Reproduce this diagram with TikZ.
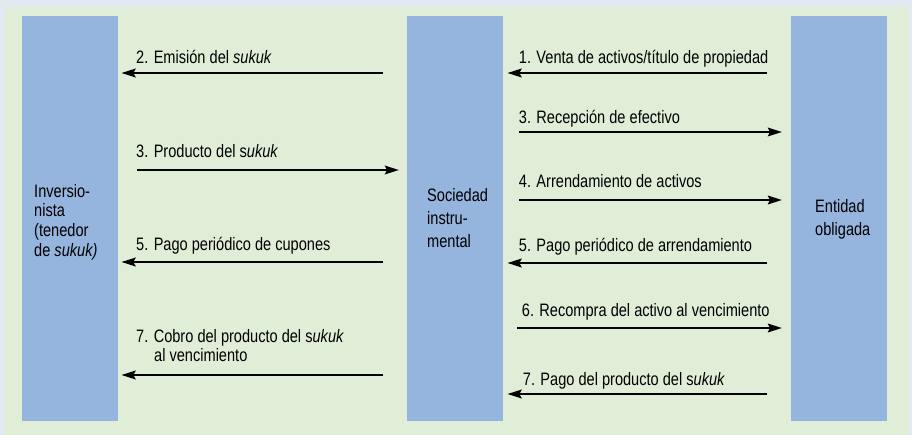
\documentclass[tikz,border=0pt]{standalone}
\usepackage{fontspec}
\setmainfont{Liberation Sans}[FakeStretch=0.81]
\usetikzlibrary{arrows.meta}
\definecolor{outerbg}{RGB}{225,234,241}
\definecolor{panel}{RGB}{224,238,216}
\definecolor{colblue}{RGB}{149,180,222}
\begin{document}
\begin{tikzpicture}[x=1pt,y=-1pt,
  col/.style={fill=colblue, draw=none, minimum width=96pt, minimum height=405pt, inner sep=0pt, anchor=north west},
  lab/.style={inner sep=0pt, anchor=base west, font=\fontsize{18}{20}\selectfont},
  collab/.style={inner sep=0pt, anchor=north west, align=left},
  arr/.style={line width=2.6pt, -{Stealth[length=14pt,width=8.5pt,inset=2pt]}}]
\useasboundingbox (0,0) rectangle (912,435);
\fill[outerbg] (0,0) rectangle (912,435);
\fill[panel] (5,7) rectangle (909,435);

% columns
\node[col] (inv) at (22,16) {};
\node[col] (soc) at (407,16) {};
\node[col] (ent) at (791,16) {};

% column labels
\node[collab, font=\fontsize{18}{19.7}\selectfont] (invlab) at (34,184)
  {Inversio-\\nista\\(tenedor\\de \textit{sukuk)}};
\node[collab, font=\fontsize{18}{23}\selectfont] (soclab) at (427,188)
  {Sociedad\\instru-\\mental};
\node[collab, font=\fontsize{18}{23}\selectfont] (entlab) at (815,199)
  {Entidad\\obligada};

% left side arrows
\draw[arr, shorten <=24pt, shorten >=3pt] (soc.west |- 0,73) -- (inv.east |- 0,73);
\draw[arr, shorten <=19pt, shorten >=8pt] (inv.east |- 0,170) -- (soc.west |- 0,170);
\draw[arr, shorten <=24pt, shorten >=3pt] (soc.west |- 0,262) -- (inv.east |- 0,262);
\draw[arr, shorten <=24pt, shorten >=3pt] (soc.west |- 0,375) -- (inv.east |- 0,375);

% right side arrows
\draw[arr, shorten <=24pt, shorten >=4pt] (ent.west |- 0,73) -- (soc.east |- 0,73);
\draw[arr, shorten <=16pt, shorten >=9pt] (soc.east |- 0,132) -- (ent.west |- 0,132);
\draw[arr, shorten <=16pt, shorten >=9pt] (soc.east |- 0,200) -- (ent.west |- 0,200);
\draw[arr, shorten <=24pt, shorten >=4pt] (ent.west |- 0,263) -- (soc.east |- 0,263);
\draw[arr, shorten <=14pt, shorten >=9pt] (soc.east |- 0,328) -- (ent.west |- 0,328);
\draw[arr, shorten <=24pt, shorten >=4pt] (ent.west |- 0,394) -- (soc.east |- 0,394);

% left labels
\node[lab] (l2) at (136,63.3) {2. Emisión del \textit{sukuk}};
\node[lab] (l3) at (136,158) {3. Producto del s\textit{ukuk}};
\node[lab] (l5) at (136,251) {5. Pago periódico de cupones};
\node[lab] (l7a) at (136,342.7) {7. Cobro del producto del s\textit{ukuk}};
\node[lab] (l7b) at (154,361) {al vencimiento};

% right labels
\node[lab] (r1) at (518.7,63.3) {1. Venta de activos/título de propiedad};
\node[lab] (r3) at (518.7,124) {3. Recepción de efectivo};
\node[lab] (r4) at (518.7,187.5) {4. Arrendamiento de activos};
\node[lab] (r5) at (518.7,251.5) {5. Pago periódico de arrendamiento};
\node[lab] (r6) at (521.7,316.7) {6. Recompra del activo al vencimiento};
\node[lab] (r7) at (522.7,385.7) {7. Pago del producto del s\textit{ukuk}};
\end{tikzpicture}
\end{document}
